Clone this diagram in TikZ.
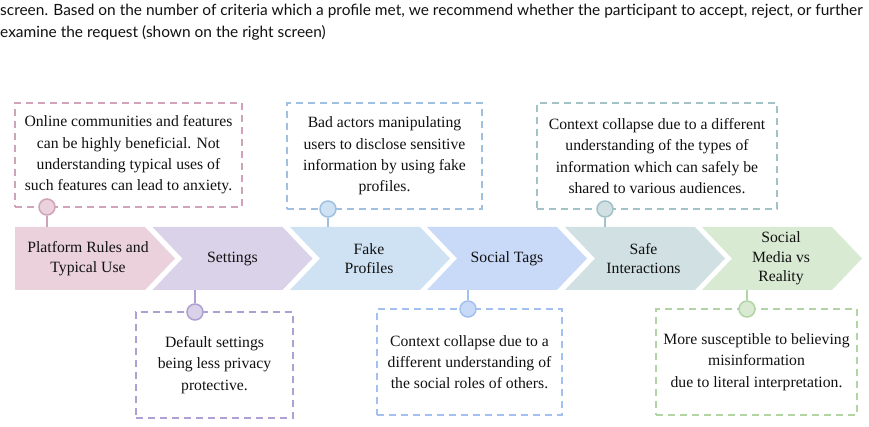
\documentclass[tikz,border=0pt]{standalone}
\usepackage{fontspec}
\setmainfont{Liberation Serif}
\newfontfamily\topfont{Lato}
\definecolor{pkF}{HTML}{EAD1DC}\definecolor{pkB}{HTML}{CFA3B9}
\definecolor{puF}{HTML}{D9D2E9}\definecolor{puB}{HTML}{AEA0D2}
\definecolor{lbF}{HTML}{CFE2F3}\definecolor{lbB}{HTML}{9FC0E0}
\definecolor{cbF}{HTML}{C9DAF8}\definecolor{cbB}{HTML}{A4C0F0}
\definecolor{tlF}{HTML}{D0E0E3}\definecolor{tlB}{HTML}{A2C2C7}
\definecolor{grF}{HTML}{D9EAD3}\definecolor{grB}{HTML}{B3D4A5}
\definecolor{txt}{HTML}{111111}
\newcommand\chevpath[2]{\fill[#2] (#1,227) -- ++(130,0) -- ++(30,31.5) -- ++(-30,31.5) -- ++(-130,0) -- ++(30,-31.5) -- cycle;}
\begin{document}
\begin{tikzpicture}[x=1pt,y=-1pt,
  boxst/.style={draw=#1, line width=1.8pt, dash pattern=on 7pt off 5pt, inner sep=0pt, align=center, text=txt,
    font=\rmfamily\fontsize{15.7}{21.3}\selectfont},
  chevtxt/.style={align=center, text=txt, inner sep=0pt, font=\rmfamily\fontsize{15.7}{19.5}\selectfont},
  dot/.style={circle, minimum size=16pt, inner sep=0pt, fill=#1},
  link/.style={draw=#1, line width=1.8pt},
  toptxt/.style={anchor=base west, inner sep=0pt, text=txt, font=\topfont\fontsize{15.45}{22}\selectfont}]
\useasboundingbox (0,0) rectangle (869,427);

% header text
\node[toptxt] (h1) at (0,15.5) {screen. Based on the number of criteria which a profile met, we recommend whether the participant to accept, reject, or further};
\node[toptxt] (h2) at (0,37.5) {examine the request (shown on the right screen)};

% chevrons
\fill[pkF] (15,227) -- (145,227) -- (175,258.5) -- (145,290) -- (15,290) -- cycle;
\chevpath{152.5}{puF}
\chevpath{290}{lbF}
\chevpath{427}{cbF}
\chevpath{565}{tlF}
\chevpath{702}{grF}

\node[chevtxt] (c1) at (88,258.5) {Platform Rules and\\Typical Use};
\node[chevtxt] (c2) at (232.5,258.5) {Settings};
\node[chevtxt] (c3) at (369,258.5) {Fake\\Profiles};
\node[chevtxt] (c4) at (507,258.5) {Social Tags};
\node[chevtxt] (c5) at (643.5,258.5) {Safe\\Interactions};
\node[chevtxt] (c6) at (781,258.5) {Social\\Media vs\\Reality};

% callout boxes
\node[boxst=pkB, minimum width=227pt, minimum height=104pt] (b1) at (128.5,155) {Online communities and features\\can be highly beneficial. Not\\understanding typical uses of\\such features can lead to anxiety.};
\node[boxst=lbB, minimum width=195pt, minimum height=106pt] (b3) at (384.5,156) {Bad actors manipulating\\users to disclose sensitive\\information by using fake\\profiles.};
\node[boxst=tlB, minimum width=240pt, minimum height=106pt] (b5) at (657,156) {Context collapse due to a different\\understanding of the types of\\information which can safely be\\shared to various audiences.};
\node[boxst=puB, minimum width=157pt, minimum height=106pt] (b2) at (214.5,365) {Default settings\\being less privacy\\protective.};
\node[boxst=cbB, minimum width=185pt, minimum height=106pt] (b4) at (469.5,362) {Context collapse due to a\\different understanding of\\the social roles of others.};
\node[boxst=grB, minimum width=201pt, minimum height=106pt] (b6) at (756.5,362) {More susceptible to believing\\misinformation\\due to literal interpretation.};

% dots
\node[dot=pkF, draw=pkB, line width=1.5pt] (d1) at (47,207) {};
\node[dot=lbF, draw=lbB, line width=1.5pt] (d3) at (328,209) {};
\node[dot=tlF, draw=tlB, line width=1.5pt] (d5) at (605,209) {};
\node[dot=puF, draw=puB, line width=1.5pt] (d2) at (195,312) {};
\node[dot=cbF, draw=cbB, line width=1.5pt] (d4) at (468,309) {};
\node[dot=grF, draw=grB, line width=1.5pt] (d6) at (747,309) {};

% connector ends on chevrons
\coordinate (e1) at (47,227);
\coordinate (e3) at (328,227);
\coordinate (e5) at (605,227);
\coordinate (e2) at (195,290);
\coordinate (e4) at (468,290);
\coordinate (e6) at (747,290);

\draw[link=pkB] (d1) -- (e1);
\draw[link=lbB] (d3) -- (e3);
\draw[link=tlB] (d5) -- (e5);
\draw[link=puB] (d2) -- (e2);
\draw[link=cbB] (d4) -- (e4);
\draw[link=grB] (d6) -- (e6);
\end{tikzpicture}
\end{document}
